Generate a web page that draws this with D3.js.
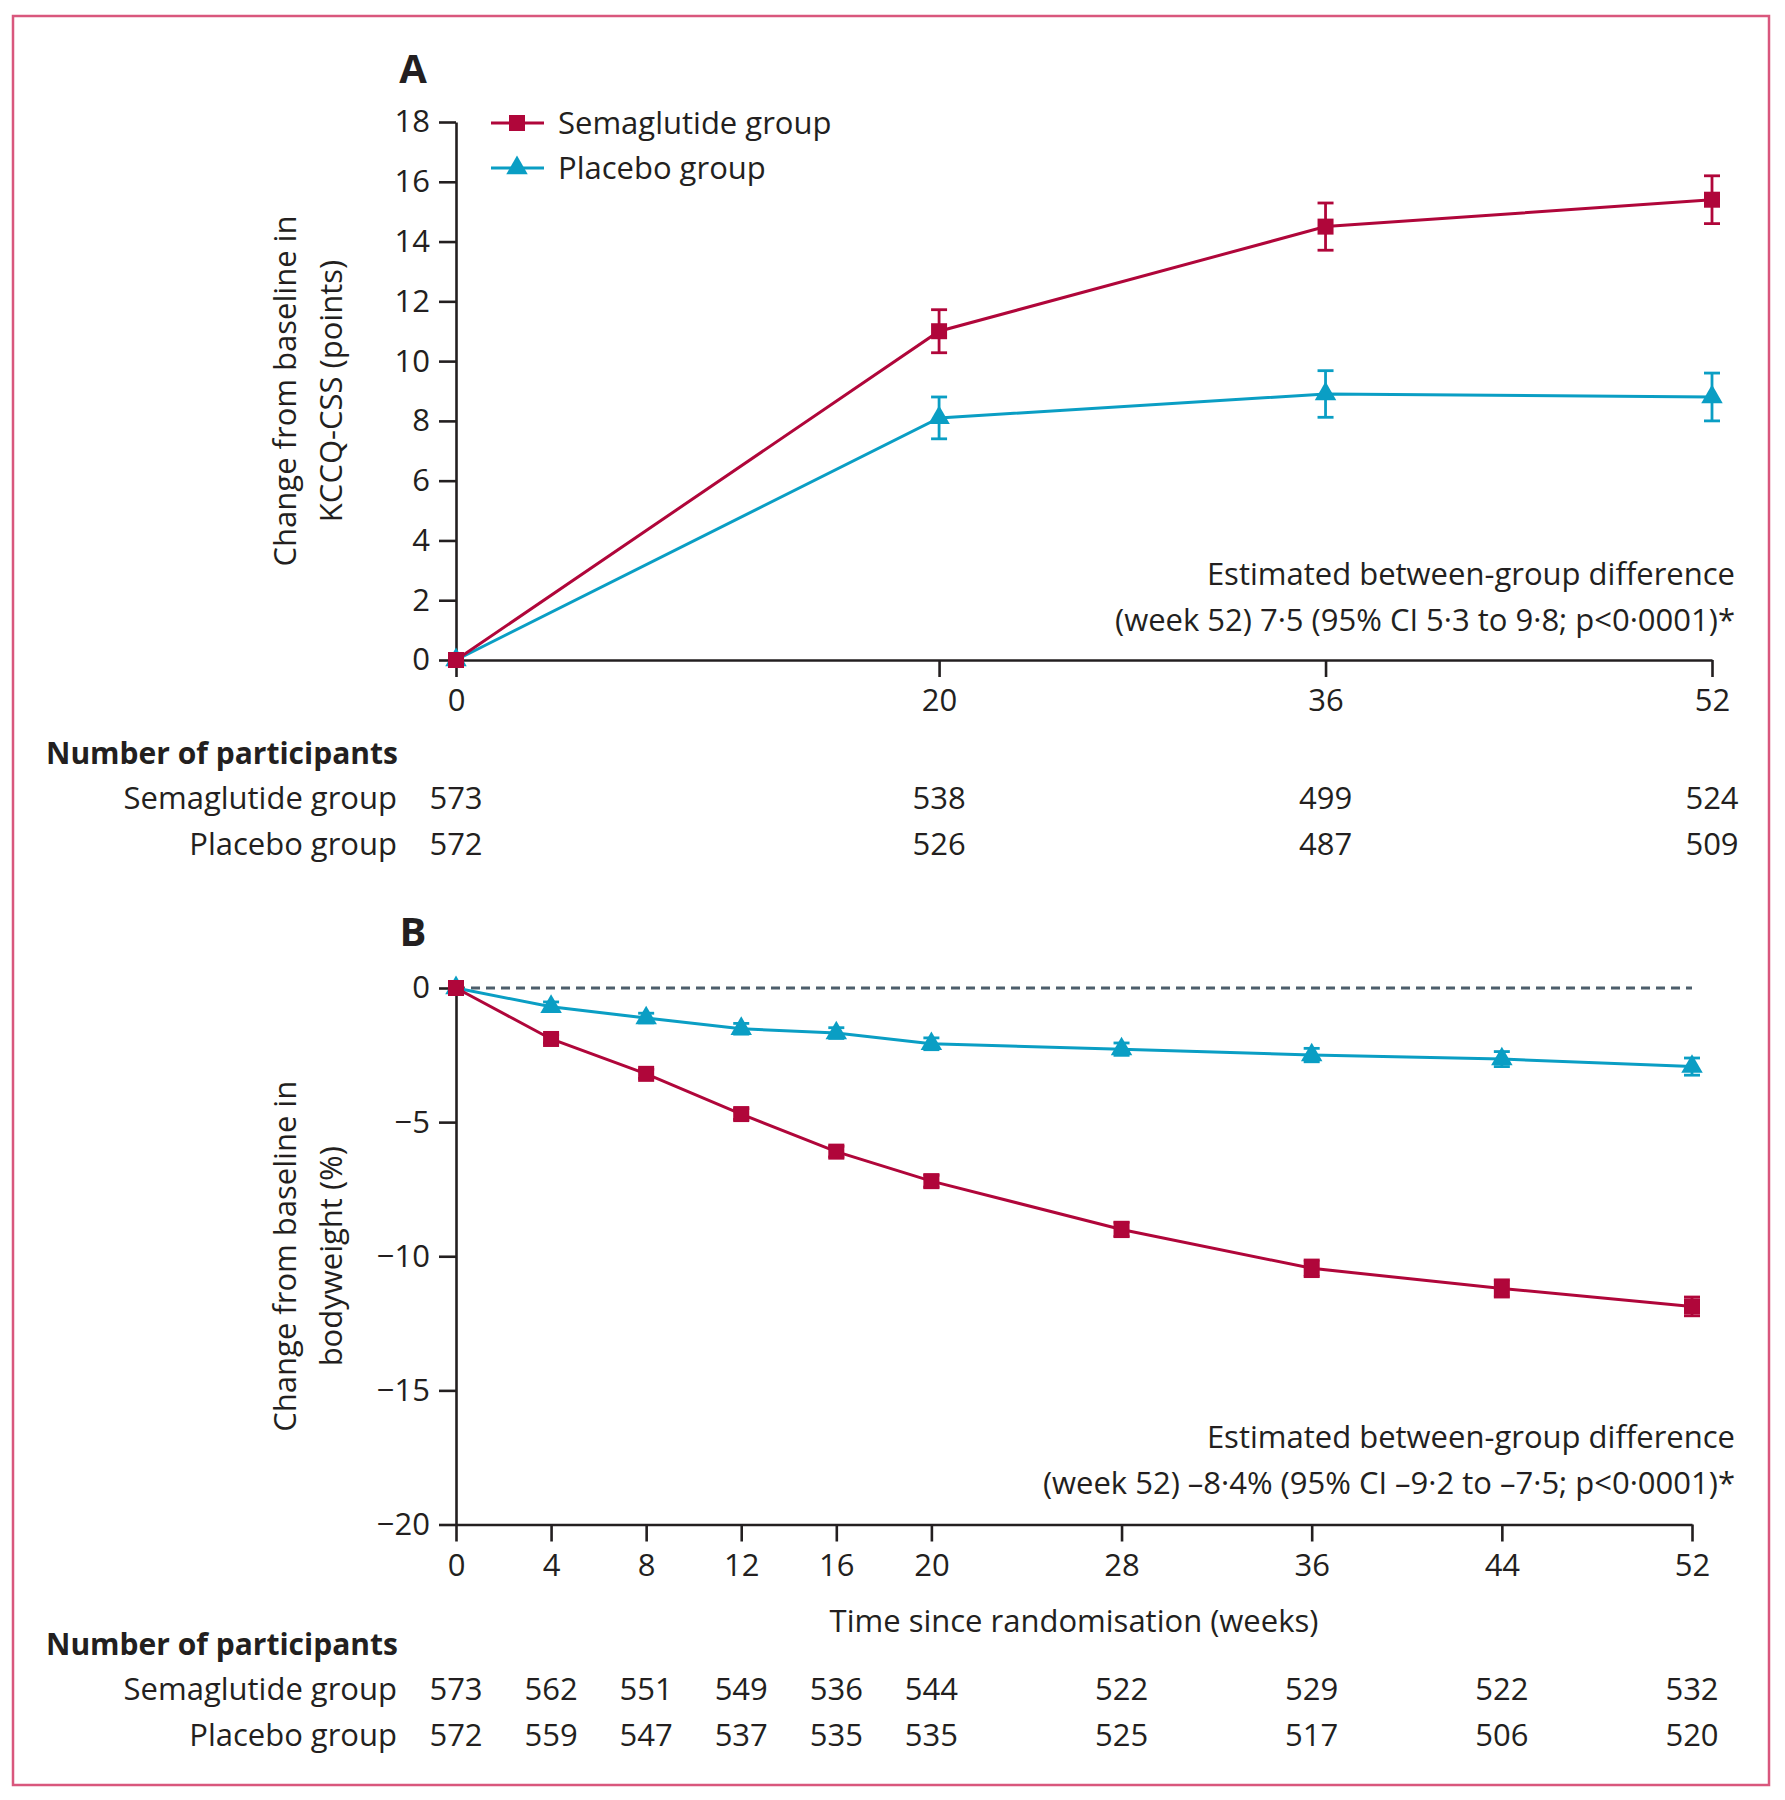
<!DOCTYPE html>
<html>
<head>
<meta charset="utf-8">
<script src="https://cdn.jsdelivr.net/npm/d3@7"></script>
<style>
  body { margin: 0; background: #fff; }
  svg text { font-family: "Open Sans", sans-serif; fill: #231f20; }
</style>
</head>
<body>
<svg id="chart" width="1785" height="1800"></svg>
<script>
// panel A: KCCQ-CSS
var weeksA = [0, 20, 36, 52];
var semaA = [0, 11.0, 14.5, 15.4];
var semaA_ci = [0, 0.72, 0.79, 0.8];
var placA = [0, 8.1, 8.9, 8.8];
var placA_ci = [0, 0.7, 0.78, 0.8];
var yTicksA = [0, 2, 4, 6, 8, 10, 12, 14, 16, 18];
var nSemaA = [573, 538, 499, 524];
var nPlacA = [572, 526, 487, 509];

// panel B: bodyweight
var weeksB = [0, 4, 8, 12, 16, 20, 28, 36, 44, 52];
var semaB = [0, -1.9, -3.2, -4.7, -6.1, -7.2, -9.0, -10.45, -11.2, -11.87];
var semaB_ci = [0, 0.15, 0.17, 0.2, 0.2, 0.22, 0.27, 0.31, 0.32, 0.35];
var placB = [0, -0.7, -1.12, -1.52, -1.68, -2.08, -2.28, -2.5, -2.65, -2.93];
var placB_ci = [0, 0.18, 0.18, 0.2, 0.2, 0.22, 0.23, 0.25, 0.28, 0.32];
var yTicksB = [0, -5, -10, -15, -20];
var nSemaB = [573, 562, 551, 549, 536, 544, 522, 529, 522, 532];
var nPlacB = [572, 559, 547, 537, 535, 535, 525, 517, 506, 520];

var red = "#b0063a", blue = "#0a9ec4";
var fs = 31;

var svg = d3.select("#chart");

svg.append("rect")
    .attr("x", 13).attr("y", 16).attr("width", 1756).attr("height", 1769)
    .attr("fill", "none").attr("stroke", "#d9577d").attr("stroke-width", 2.5);

function fmt(d) { return d < 0 ? "\u2212" + Math.abs(d) : String(d); }

function panel(opt) {
  var x = d3.scaleLinear().domain([0, 52]).range([456, opt.xEnd]);
  var y = d3.scaleLinear().domain(opt.yDomain).range(opt.yRange);
  var g = svg.append("g");
  var yBottom = y(opt.yDomain[0]);

  g.append("g")
      .attr("transform", "translate(456,0)")
      .call(d3.axisLeft(y).tickValues(opt.yTicks).tickFormat(fmt).tickSize(17).tickSizeOuter(0).tickPadding(9));
  g.append("g")
      .attr("transform", "translate(0," + yBottom + ")")
      .call(d3.axisBottom(x).tickValues(opt.weeks).tickSize(17).tickSizeOuter(0).tickPadding(12));
  g.selectAll(".domain, .tick line").attr("stroke", "#231f20").attr("stroke-width", 2.6);
  g.selectAll(".tick text").attr("font-size", fs).attr("font-family", "Open Sans").attr("fill", "#231f20");

  if (opt.zeroLine) {
    g.append("line")
        .attr("x1", x(0)).attr("x2", x(52)).attr("y1", y(0)).attr("y2", y(0))
        .attr("stroke", "#4d5e6b").attr("stroke-width", 3).attr("stroke-dasharray", "9,6");
  }

  // panel letter
  g.append("text").attr("x", 413).attr("y", opt.letterY).attr("dy", "0.35em")
      .attr("text-anchor", "middle").attr("font-size", 40).attr("font-weight", 700).text(opt.letter);

  // y axis label
  var cy = (opt.yRange[0] + opt.yRange[1]) / 2;
  opt.yLabel.forEach(function(t, i) {
    g.append("text")
        .attr("transform", "translate(" + (285 + i * 46) + "," + cy + ") rotate(-90)")
        .attr("dy", "0.35em").attr("text-anchor", "middle").attr("font-size", fs).text(t);
  });

  var line = d3.line().x(function(d) { return x(d[0]); }).y(function(d) { return y(d[1]); });

  function series(vals, ci, weeks, color, shape, size, cap) {
    var pts = weeks.map(function(w, i) { return [w, vals[i], ci[i]]; });
    g.append("path").datum(pts).attr("d", line)
        .attr("fill", "none").attr("stroke", color).attr("stroke-width", 3);
    var eb = g.append("g").attr("stroke", color).attr("stroke-width", 2.8);
    pts.filter(function(d) { return d[2] > 0; }).forEach(function(d) {
      eb.append("line").attr("x1", x(d[0])).attr("x2", x(d[0])).attr("y1", y(d[1] - d[2])).attr("y2", y(d[1] + d[2]));
      eb.append("line").attr("x1", x(d[0]) - cap / 2).attr("x2", x(d[0]) + cap / 2).attr("y1", y(d[1] - d[2])).attr("y2", y(d[1] - d[2]));
      eb.append("line").attr("x1", x(d[0]) - cap / 2).attr("x2", x(d[0]) + cap / 2).attr("y1", y(d[1] + d[2])).attr("y2", y(d[1] + d[2]));
    });
    g.selectAll(null).data(pts).enter().append("path")
        .attr("transform", function(d) { return "translate(" + x(d[0]) + "," + y(d[1]) + ")"; })
        .attr("d", d3.symbol().type(shape).size(size))
        .attr("fill", color);
  }
  // placebo first so semaglutide sits on top at week 0
  series(opt.plac, opt.placCi, opt.weeks, blue, d3.symbolTriangle, opt.triSize, opt.cap);
  series(opt.sema, opt.semaCi, opt.weeks, red, d3.symbolSquare, opt.sqSize, opt.cap);

  // annotation
  opt.note.forEach(function(t, i) {
    g.append("text").attr("x", 1735).attr("y", opt.noteY + i * 46).attr("dy", "0.35em")
        .attr("text-anchor", "end").attr("font-size", fs).text(t);
  });

  // number at risk table
  g.append("text").attr("x", 46).attr("y", opt.tableY).attr("dy", "0.35em")
      .attr("font-size", 30).attr("font-weight", 700).text("Number of participants");
  [["Semaglutide group", opt.nSema], ["Placebo group", opt.nPlac]].forEach(function(row, r) {
    var ry = opt.tableY + 45 + r * 46;
    g.append("text").attr("x", 397).attr("y", ry).attr("dy", "0.35em")
        .attr("text-anchor", "end").attr("font-size", fs).text(row[0]);
    g.selectAll(null).data(row[1]).enter().append("text")
        .attr("x", function(d, i) { return x(opt.weeks[i]); })
        .attr("y", ry).attr("dy", "0.35em")
        .attr("text-anchor", "middle").attr("font-size", fs)
        .text(function(d) { return d; });
  });
  return { x: x, y: y, g: g };
}

var A = panel({
  letter: "A", letterY: 69,
  xEnd: 1712, yDomain: [0, 18], yRange: [660, 122], yTicks: yTicksA, weeks: weeksA,
  sema: semaA, semaCi: semaA_ci, plac: placA, placCi: placA_ci,
  sqSize: 256, triSize: 200, cap: 16,
  yLabel: ["Change from baseline in", "KCCQ-CSS (points)"],
  note: ["Estimated between-group difference", "(week 52) 7\u00b75 (95% CI 5\u00b73 to 9\u00b78; p<0\u00b70001)*"], noteY: 574,
  tableY: 753, nSema: nSemaA, nPlac: nPlacA
});

var B = panel({
  letter: "B", letterY: 932, zeroLine: true,
  xEnd: 1692, yDomain: [-20, 0], yRange: [1524.5, 988], yTicks: yTicksB, weeks: weeksB,
  sema: semaB, semaCi: semaB_ci, plac: placB, placCi: placB_ci,
  sqSize: 256, triSize: 200, cap: 16,
  yLabel: ["Change from baseline in", "bodyweight (%)"],
  note: ["Estimated between-group difference", "(week 52) \u20138\u00b74% (95% CI \u20139\u00b72 to \u20137\u00b75; p<0\u00b70001)*"], noteY: 1437,
  tableY: 1644, nSema: nSemaB, nPlac: nPlacB
});

// x axis title for B
svg.append("text").attr("x", 1074).attr("y", 1621).attr("dy", "0.35em")
    .attr("text-anchor", "middle").attr("font-size", fs).text("Time since randomisation (weeks)");

// legend
var legend = svg.append("g");
[["Semaglutide group", red, d3.symbolSquare, 256], ["Placebo group", blue, d3.symbolTriangle, 200]].forEach(function(d, i) {
  var ly = 123 + i * 45;
  legend.append("line").attr("x1", 491).attr("x2", 544).attr("y1", ly).attr("y2", ly)
      .attr("stroke", d[1]).attr("stroke-width", 3);
  legend.append("path").attr("transform", "translate(517," + ly + ")")
      .attr("d", d3.symbol().type(d[2]).size(d[3])).attr("fill", d[1]);
  legend.append("text").attr("x", 558).attr("y", ly).attr("dy", "0.35em")
      .attr("font-size", fs).text(d[0]);
});
</script>
</body>
</html>
